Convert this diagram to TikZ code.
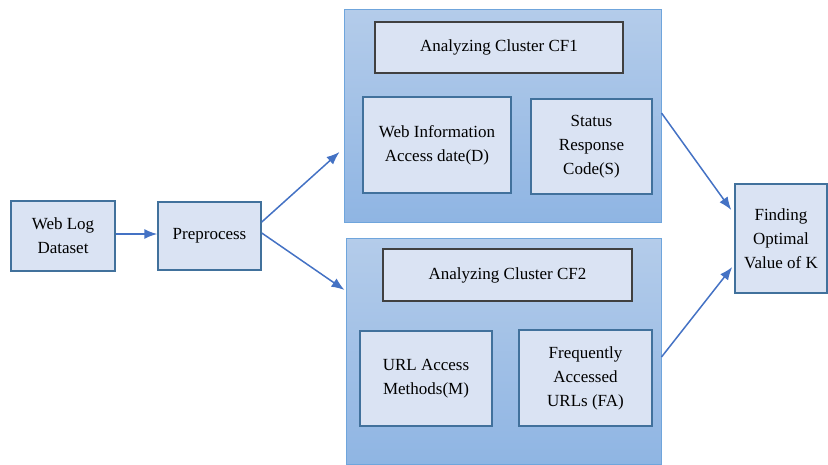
\documentclass[tikz,border=0pt]{standalone}
\usepackage{fontspec}
\setmainfont{Liberation Serif}
\usetikzlibrary{arrows.meta}

\definecolor{boxfill}{RGB}{218,227,243}
\definecolor{boxline}{RGB}{65,113,156}
\definecolor{titleline}{RGB}{64,64,64}
\definecolor{groupline}{RGB}{111,165,220}
\definecolor{grouptop}{RGB}{180,204,234}
\definecolor{groupbottom}{RGB}{143,181,227}
\definecolor{flowline}{RGB}{68,114,196}

\tikzset{every picture/.style={line width=1pt}}
\tikzset{
  stepbox/.style={draw=boxline, fill=boxfill, line width=1.5pt, align=center, inner sep=0pt},
  titlebox/.style={draw=titleline, fill=boxfill, line width=1.2pt, align=center, inner sep=0pt},
  groupbox/.style={draw=groupline, top color=grouptop, bottom color=groupbottom, line width=1pt, inner sep=0pt},
  flow/.style={draw=flowline, line width=1.5pt, -{Latex[length=13pt,width=10pt]}}
}

\begin{document}
\begin{tikzpicture}[x=1pt,y=1pt,yscale=-1,xscale=1,font=\fontsize{17}{24}\selectfont]
	\useasboundingbox (0,0) rectangle (828,464);

	%Groups
	\node [groupbox, minimum width=317, minimum height=213] (cf1) at (502.5,115.5) {};
	\node [groupbox, minimum width=315, minimum height=226] (cf2) at (503.5,351) {};

	%Inputs
	\node [stepbox, minimum width=104, minimum height=70] (weblog) at (63,236) {Web Log\\Dataset};
	\node [stepbox, minimum width=103, minimum height=68] (pre) at (209.5,236) {Preprocess};

	%Cluster CF1
	\node [titlebox, minimum width=248, minimum height=51] (cf1title) at (499,47.5) {Analyzing Cluster CF1};
	\node [stepbox, minimum width=148, minimum height=96] (webinfo) at (437,145) {Web Information\\Access date(D)};
	\node [stepbox, minimum width=121, minimum height=95] (status) at (591.5,146.5) {Status\\Response\\Code(S)};

	%Cluster CF2
	\node [titlebox, minimum width=249, minimum height=52] (cf2title) at (507.5,275) {Analyzing Cluster CF2};
	\node [stepbox, minimum width=132, minimum height=95] (url) at (426,378.5) {URL Access\\Methods(M)};
	\node [stepbox, minimum width=133, minimum height=96] (freq) at (585.5,378) {Frequently\\Accessed\\URLs (FA)};

	%Output
	\node [stepbox, minimum width=92, minimum height=109] (optk) at (781,238.5) {Finding\\Optimal\\Value of K};

	%Arrows
	\draw [flow] ([yshift=-2pt]weblog.east) -- ([yshift=-2pt]pre.west);
	\draw [flow] ([yshift=-14pt]pre.east) -- ([xshift=-4pt,yshift=36.5pt]cf1.west);
	\draw [flow] ([yshift=-3pt]pre.east) -- ([xshift=-1pt,yshift=-61pt]cf2.west);
	\draw [flow] ([yshift=-2.5pt]cf1.east) -- ([xshift=-3pt,yshift=-28.5pt]optk.west);
	\draw [flow] ([yshift=6pt]cf2.east) -- ([xshift=-2pt,yshift=28.5pt]optk.west);

\end{tikzpicture}
\end{document}
